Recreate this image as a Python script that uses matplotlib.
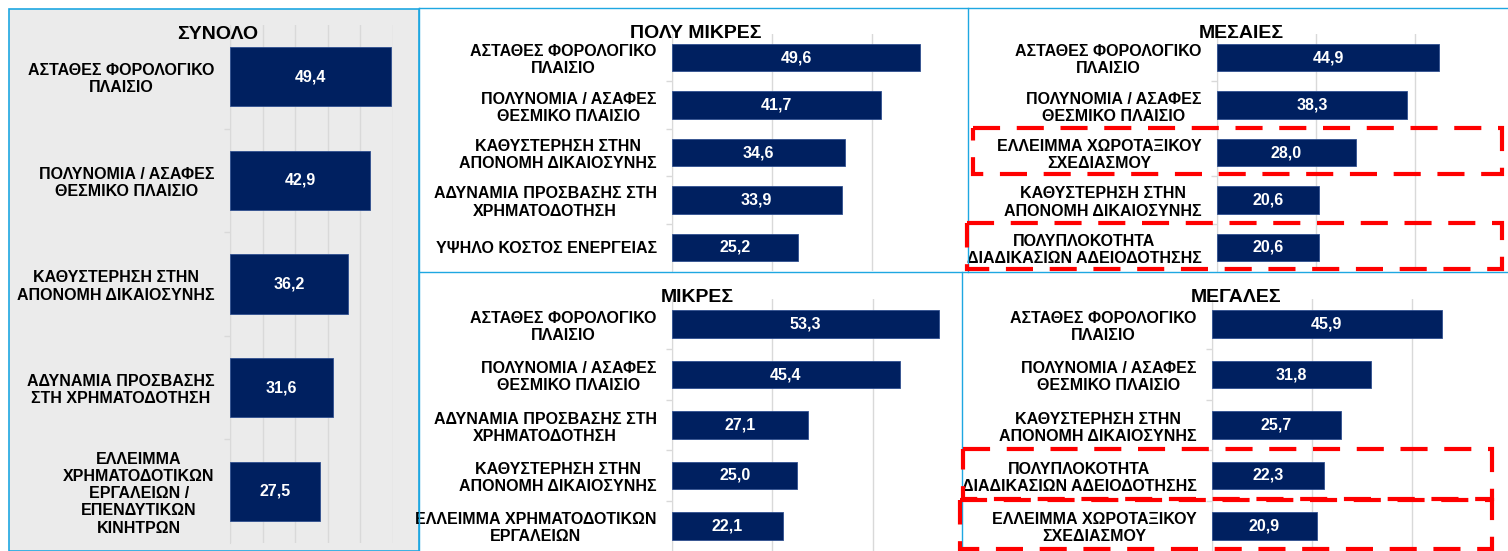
import matplotlib.pyplot as plt
from matplotlib.patches import Rectangle
from matplotlib.lines import Line2D
from matplotlib.transforms import blended_transform_factory

plt.rcParams['font.family'] = ['Liberation Sans', 'DejaVu Sans']
plt.rcParams['font.weight'] = 'bold'

# data, top to bottom
total_labels = ['ΑΣΤΑΘΕΣ ΦΟΡΟΛΟΓΙΚΟ\nΠΛΑΙΣΙΟ', 'ΠΟΛΥΝΟΜΙΑ / ΑΣΑΦΕΣ\nΘΕΣΜΙΚΟ ΠΛΑΙΣΙΟ',
                'ΚΑΘΥΣΤΕΡΗΣΗ ΣΤΗΝ\nΑΠΟΝΟΜΗ ΔΙΚΑΙΟΣΥΝΗΣ', 'ΑΔΥΝΑΜΙΑ ΠΡΟΣΒΑΣΗΣ\nΣΤΗ ΧΡΗΜΑΤΟΔΟΤΗΣΗ',
                'ΕΛΛΕΙΜΜΑ\nΧΡΗΜΑΤΟΔΟΤΙΚΩΝ\nΕΡΓΑΛΕΙΩΝ /\nΕΠΕΝΔΥΤΙΚΩΝ\nΚΙΝΗΤΡΩΝ']
total_values = [49.4, 42.9, 36.2, 31.6, 27.5]

vsmall_labels = ['ΑΣΤΑΘΕΣ ΦΟΡΟΛΟΓΙΚΟ\nΠΛΑΙΣΙΟ', 'ΠΟΛΥΝΟΜΙΑ / ΑΣΑΦΕΣ\nΘΕΣΜΙΚΟ ΠΛΑΙΣΙΟ',
                 'ΚΑΘΥΣΤΕΡΗΣΗ ΣΤΗΝ\nΑΠΟΝΟΜΗ ΔΙΚΑΙΟΣΥΝΗΣ', 'ΑΔΥΝΑΜΙΑ ΠΡΟΣΒΑΣΗΣ ΣΤΗ\nΧΡΗΜΑΤΟΔΟΤΗΣΗ',
                 'ΥΨΗΛΟ ΚΟΣΤΟΣ ΕΝΕΡΓΕΙΑΣ']
vsmall_values = [49.6, 41.7, 34.6, 33.9, 25.2]

medium_labels = ['ΑΣΤΑΘΕΣ ΦΟΡΟΛΟΓΙΚΟ\nΠΛΑΙΣΙΟ', 'ΠΟΛΥΝΟΜΙΑ / ΑΣΑΦΕΣ\nΘΕΣΜΙΚΟ ΠΛΑΙΣΙΟ',
                 'ΕΛΛΕΙΜΜΑ ΧΩΡΟΤΑΞΙΚΟΥ\nΣΧΕΔΙΑΣΜΟΥ', 'ΚΑΘΥΣΤΕΡΗΣΗ ΣΤΗΝ\nΑΠΟΝΟΜΗ ΔΙΚΑΙΟΣΥΝΗΣ',
                 'ΠΟΛΥΠΛΟΚΟΤΗΤΑ\nΔΙΑΔΙΚΑΣΙΩΝ ΑΔΕΙΟΔΟΤΗΣΗΣ']
medium_values = [44.9, 38.3, 28.0, 20.6, 20.6]

small_labels = ['ΑΣΤΑΘΕΣ ΦΟΡΟΛΟΓΙΚΟ\nΠΛΑΙΣΙΟ', 'ΠΟΛΥΝΟΜΙΑ / ΑΣΑΦΕΣ\nΘΕΣΜΙΚΟ ΠΛΑΙΣΙΟ',
                'ΑΔΥΝΑΜΙΑ ΠΡΟΣΒΑΣΗΣ ΣΤΗ\nΧΡΗΜΑΤΟΔΟΤΗΣΗ', 'ΚΑΘΥΣΤΕΡΗΣΗ ΣΤΗΝ\nΑΠΟΝΟΜΗ ΔΙΚΑΙΟΣΥΝΗΣ',
                'ΕΛΛΕΙΜΜΑ ΧΡΗΜΑΤΟΔΟΤΙΚΩΝ\nΕΡΓΑΛΕΙΩΝ']
small_values = [53.3, 45.4, 27.1, 25.0, 22.1]

large_labels = ['ΑΣΤΑΘΕΣ ΦΟΡΟΛΟΓΙΚΟ\nΠΛΑΙΣΙΟ', 'ΠΟΛΥΝΟΜΙΑ / ΑΣΑΦΕΣ\nΘΕΣΜΙΚΟ ΠΛΑΙΣΙΟ',
                'ΚΑΘΥΣΤΕΡΗΣΗ ΣΤΗΝ\nΑΠΟΝΟΜΗ ΔΙΚΑΙΟΣΥΝΗΣ', 'ΠΟΛΥΠΛΟΚΟΤΗΤΑ\nΔΙΑΔΙΚΑΣΙΩΝ ΑΔΕΙΟΔΟΤΗΣΗΣ',
                'ΕΛΛΕΙΜΜΑ ΧΩΡΟΤΑΞΙΚΟΥ\nΣΧΕΔΙΑΣΜΟΥ']
large_values = [45.9, 31.8, 25.7, 22.3, 20.9]

W, H = 1508, 551
BAR = '#002060'
GRID = '#d9d9d9'
BLUE = '#1ea7e1'


def frac(x0, y0, x1, y1):
    return [x0 / W, 1 - y1 / H, (x1 - x0) / W, (y1 - y0) / H]


fig = plt.figure(figsize=(W / 100, H / 100), dpi=100)

# grey background of the total panel
fig.add_artist(Rectangle((9 / W, 0), 410 / W, 1 - 9 / H, transform=fig.transFigure,
                         facecolor='#ebebeb', edgecolor=BLUE, lw=1.2, zorder=0))

# panel borders
for xs, ys in [([419, W], [8, 8]), ([419, 419], [8, H]), ([968, 968], [8, 272]),
               ([419, W], [272, 272]), ([962, 962], [272, H])]:
    fig.add_artist(Line2D([x / W for x in xs], [1 - y / H for y in ys],
                          transform=fig.transFigure, color=BLUE, lw=1.0))


def panel(rect, labels, values, xmax, step, bh):
    ax = fig.add_axes(frac(*rect))
    ax.set_facecolor('none')
    pos = list(range(len(values)))
    ax.barh(pos, values, height=bh, color=BAR, edgecolor='#2f4f8f', lw=0.6, zorder=3)
    for p, v in zip(pos, values):
        ax.text(v / 2, p, f'{v:.1f}'.replace('.', ','), color='white', ha='center',
                va='center', fontsize=11.5, fontweight='bold', zorder=4)
    ax.set_xlim(0, xmax)
    ax.set_ylim(len(values) - 0.5, -0.5)
    ax.set_xticks(range(0, int(xmax) + 1, step))
    ax.xaxis.grid(True, color=GRID, lw=1.0)
    ax.set_axisbelow(True)
    ax.tick_params(axis='x', length=0, labelbottom=False)
    ax.set_yticks(pos)
    ax.set_yticklabels(labels, fontsize=11.5, fontweight='bold', linespacing=1.18)
    for lab in ax.get_yticklabels():
        lab.set_multialignment('center')
    ax.set_yticks([p + 0.5 for p in pos[:-1]], minor=True)
    ax.tick_params(axis='y', which='major', length=0, pad=11)
    ax.tick_params(axis='y', which='minor', length=4, color=GRID, width=1)
    for s in ['top', 'right', 'bottom']:
        ax.spines[s].set_visible(False)
    ax.spines['left'].set_color(GRID)
    return ax


ax_tot = panel((230, 25, 393, 543), total_labels, total_values, 50, 10, 0.57)
ax_vs = panel((672, 34, 967, 271), vsmall_labels, vsmall_values, 59, 20, 0.58)
ax_med = panel((1217, 34, 1507, 271), medium_labels, medium_values, 58.6, 20, 0.58)
ax_sm = panel((672, 299, 962, 551), small_labels, small_values, 57.8, 20, 0.55)
ax_lg = panel((1212, 299, 1507, 551), large_labels, large_values, 59, 20, 0.55)

# panel titles
for txt, x, y in [('ΣΥΝΟΛΟ', 218, 39), ('ΠΟΛΥ ΜΙΚΡΕΣ', 696, 38), ('ΜΕΣΑΙΕΣ', 1241, 38),
                  ('ΜΙΚΡΕΣ', 697, 302), ('ΜΕΓΑΛΕΣ', 1236, 302)]:
    fig.text(x / W, 1 - y / H, txt, ha='center', va='baseline', fontsize=14, fontweight='bold')

# red dashed highlight boxes around single categories
for ax, idx, x0, x1 in [(ax_med, 2, 973, 1502), (ax_med, 4, 967, 1502),
                        (ax_lg, 3, 963, 1492), (ax_lg, 4, 960, 1492)]:
    tr = blended_transform_factory(fig.transFigure, ax.transData)
    r = Rectangle((x0 / W, idx - 0.52), (x1 - x0) / W, 0.98, transform=tr, fill=False,
                  edgecolor='#ff0000', lw=3, linestyle=(0, (6.5, 4)), clip_on=False,
                  joinstyle='miter', zorder=10)
    fig.add_artist(r)

fig.savefig('out.png', dpi=100)
